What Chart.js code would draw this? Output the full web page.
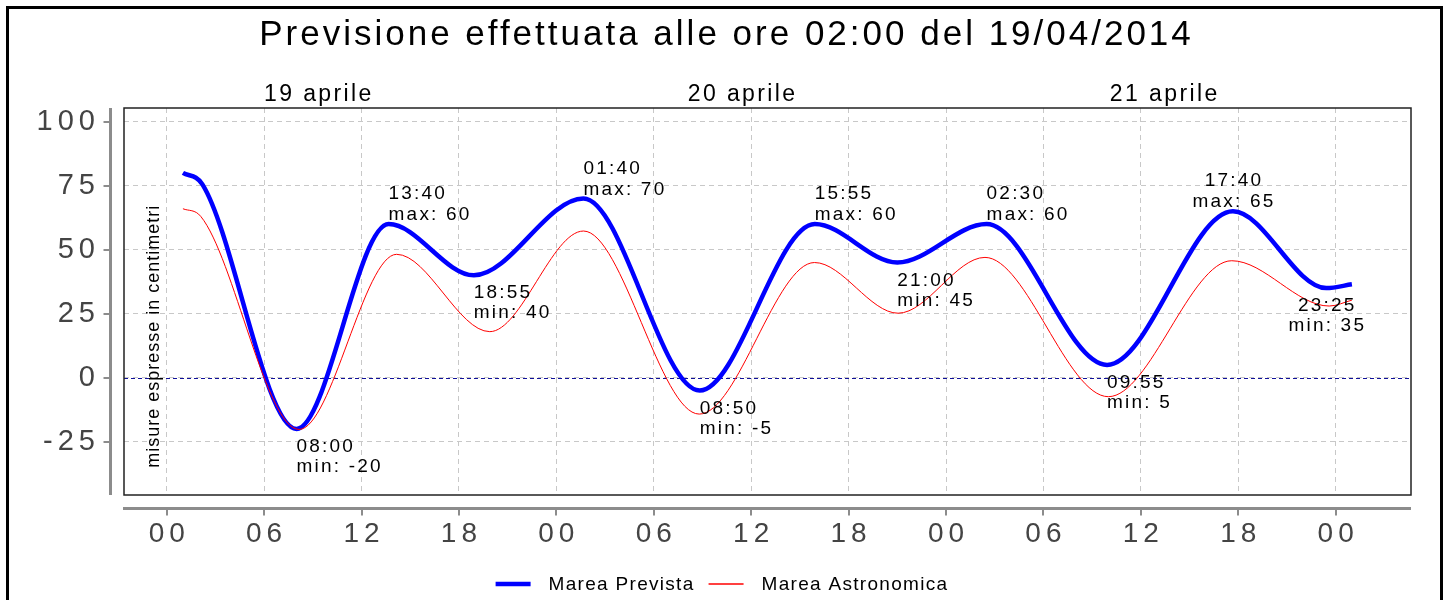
<!DOCTYPE html>
<html>
<head>
<meta charset="utf-8">
<script src="https://cdn.jsdelivr.net/npm/chart.js@4.4.1/dist/chart.umd.min.js"></script>
<style>
html,body{margin:0;padding:0;background:#fff;}
canvas{display:block;}
</style>
</head>
<body>
<canvas id="c" width="1450" height="600"></canvas>
<script>
// ---------------- DATA ----------------
const titleText = 'Previsione effettuata alle ore 02:00 del 19/04/2014';
const yAxisTitle = 'misure espresse in centimetri';
const seriesNames = ['Marea Prevista', 'Marea Astronomica'];

const dayLabels = ['19 aprile', '20 aprile', '21 aprile'];
const dayLabelHours = [9.3, 35.4, 61.4];

const xTickHours = [0, 6, 12, 18, 24, 30, 36, 42, 48, 54, 60, 66, 72];
const xTickLabels = ['00', '06', '12', '18', '00', '06', '12', '18', '00', '06', '12', '18', '00'];
const yTickValues = [-25, 0, 25, 50, 75, 100];

// hours since 19/04/2014 00:00 (start, turning points, end)
const predictedHours = [1, 2.2, 8, 13.67, 18.92, 25.67, 32.83, 39.92, 45, 50.5, 57.92, 65.67, 71.42, 73];
const predictedValues = [80, 75.5, -20, 60, 40, 70, -5, 60, 45, 60, 5, 65, 35, 36.5];

const astroHours = [1, 2.1, 8.15, 14.16, 19.9, 25.67, 32.8, 39.9, 45.05, 50.4, 58, 65.6, 71.6, 73];
const astroValues = [66, 63, -20.2, 48.2, 18, 57.3, -14.2, 45, 25.2, 47, -7.4, 45.7, 28, 30.3];

const extremeDays = [19, 19, 19, 20, 20, 20, 20, 21, 21, 21, 21];
const extremeTimes = ['08:00', '13:40', '18:55', '01:40', '08:50', '15:55', '21:00', '02:30', '09:55', '17:40', '23:25'];
const extremeKinds = ['min', 'max', 'min', 'max', 'min', 'max', 'min', 'max', 'min', 'max', 'min'];
const extremeValues = [-20, 60, 40, 70, -5, 60, 45, 60, 5, 65, 35];

// ---------------- STYLE ----------------
const FONT = '"Liberation Sans", Arial, Helvetica, sans-serif';
const annotationAlign = ['left', 'left', 'left', 'left', 'left', 'left', 'left', 'left', 'left', 'center', 'center'];
const colors = { predicted: '#0000ff', astro: '#ff0000' };

const extremeHours = extremeTimes.map((t, i) => {
  const [hh, mm] = t.split(':').map(Number);
  return (extremeDays[i] - 19) * 24 + hh + mm / 60;
});

const toPoints = (xs, ys) => xs.map((x, i) => ({ x: x, y: ys[i] }));

const deco = {
  id: 'deco',
  beforeDraw(chart) {
    const ctx = chart.ctx;
    ctx.save();
    ctx.fillStyle = '#fff';
    ctx.fillRect(0, 0, chart.width, chart.height);
    ctx.restore();
    ctx.letterSpacing = '5px';
  },
  beforeDatasetsDraw(chart) {
    const { ctx, chartArea: a, scales: { y } } = chart;
    const y0 = Math.round(y.getPixelForValue(0)) + 0.5;
    ctx.save();
    ctx.strokeStyle = '#10109a';
    ctx.lineWidth = 1;
    ctx.setLineDash([4, 3]);
    ctx.beginPath();
    ctx.moveTo(a.left, y0);
    ctx.lineTo(a.right, y0);
    ctx.stroke();
    ctx.restore();
  },
  afterDraw(chart) {
    const { ctx, chartArea: a, scales: { x, y } } = chart;
    ctx.save();
    ctx.letterSpacing = '0px';
    // outer frame
    ctx.strokeStyle = '#000';
    ctx.lineWidth = 3;
    ctx.strokeRect(7.5, 7.5, chart.width - 16, chart.height + 50);
    // plot border
    ctx.strokeStyle = '#222';
    ctx.lineWidth = 1.5;
    ctx.strokeRect(a.left, a.top, a.right - a.left, a.bottom - a.top);
    // y axis line + ticks
    const axX = a.left - 13.5;
    ctx.strokeStyle = '#8c8c8c';
    ctx.lineWidth = 3;
    ctx.beginPath();
    ctx.moveTo(axX, a.top);
    ctx.lineTo(axX, a.bottom);
    ctx.stroke();
    ctx.lineWidth = 2;
    yTickValues.forEach(v => {
      const py = Math.round(y.getPixelForValue(v));
      ctx.beginPath();
      ctx.moveTo(axX - 7, py);
      ctx.lineTo(axX, py);
      ctx.stroke();
    });
    // x axis line + ticks
    const axY = a.bottom + 13.5;
    ctx.lineWidth = 3;
    ctx.beginPath();
    ctx.moveTo(a.left - 1, axY);
    ctx.lineTo(a.right, axY);
    ctx.stroke();
    ctx.lineWidth = 2;
    xTickHours.forEach(h => {
      const px = Math.round(x.getPixelForValue(h));
      ctx.beginPath();
      ctx.moveTo(px, axY);
      ctx.lineTo(px, axY + 7);
      ctx.stroke();
    });
    ctx.restore();

    // title
    ctx.save();
    ctx.fillStyle = '#000';
    ctx.font = '35px ' + FONT;
    ctx.letterSpacing = '3px';
    ctx.textAlign = 'center';
    ctx.textBaseline = 'alphabetic';
    ctx.fillText(titleText, chart.width / 2 + 1.5, 45);
    // day labels
    ctx.font = '23px ' + FONT;
    ctx.letterSpacing = '2.4px';
    dayLabels.forEach((t, i) => {
      ctx.fillText(t, x.getPixelForValue(dayLabelHours[i]) + 1.2, 100.5);
    });
    ctx.restore();

    // y axis title inside plot
    ctx.save();
    ctx.fillStyle = '#000';
    ctx.font = '18px ' + FONT;
    ctx.letterSpacing = '1px';
    ctx.translate(a.left + 30, y.getPixelForValue(16));
    ctx.rotate(-Math.PI / 2);
    ctx.textAlign = 'center';
    ctx.textBaseline = 'middle';
    ctx.fillText(yAxisTitle, 0.5, 0);
    ctx.restore();

    // extreme annotations
    ctx.save();
    ctx.fillStyle = '#000';
    ctx.font = '19px ' + FONT;
    ctx.letterSpacing = '2.2px';
    ctx.textBaseline = 'alphabetic';
    extremeTimes.forEach((t, i) => {
      const px = x.getPixelForValue(extremeHours[i]);
      const py = y.getPixelForValue(extremeValues[i]);
      const line2 = extremeKinds[i] + ': ' + extremeValues[i];
      const align = annotationAlign[i];
      ctx.textAlign = align;
      const dx = align === 'center' ? 1.1 : 0;
      if (extremeKinds[i] === 'max') {
        ctx.fillText(t, px + dx, py - 25);
        ctx.fillText(line2, px + dx, py - 4);
      } else {
        ctx.fillText(t, px + dx, py + 23);
        ctx.fillText(line2, px + dx, py + 43);
      }
    });
    ctx.restore();

    // legend
    ctx.save();
    ctx.font = '19px ' + FONT;
    ctx.letterSpacing = '1.3px';
    ctx.textBaseline = 'middle';
    ctx.textAlign = 'left';
    const items = [
      { text: seriesNames[0], color: colors.predicted, lw: 4.5 },
      { text: seriesNames[1], color: colors.astro, lw: 1.3 }
    ];
    const lineW = 35, gap = 18, itemGap = 14;
    const widths = items.map(it => ctx.measureText(it.text).width);
    let total = 0;
    items.forEach((it, i) => { total += lineW + gap + widths[i]; });
    total += itemGap;
    let cx = chart.width / 2 - total / 2 - 3;
    const ly = 584;
    items.forEach((it, i) => {
      ctx.strokeStyle = it.color;
      ctx.lineWidth = it.lw;
      ctx.beginPath();
      ctx.moveTo(cx, ly);
      ctx.lineTo(cx + lineW, ly);
      ctx.stroke();
      ctx.fillStyle = '#000';
      ctx.fillText(it.text, cx + lineW + gap, ly + 1);
      cx += lineW + gap + widths[i] + itemGap;
    });
    ctx.restore();
  }
};

new Chart(document.getElementById('c'), {
  type: 'line',
  data: {
    datasets: [
      {
        label: seriesNames[0],
        data: toPoints(predictedHours, predictedValues),
        borderColor: colors.predicted,
        borderWidth: 4.5,
        pointRadius: 0,
        fill: false,
        cubicInterpolationMode: 'monotone',
        order: 2
      },
      {
        label: seriesNames[1],
        data: toPoints(astroHours, astroValues),
        borderColor: colors.astro,
        borderWidth: 1,
        pointRadius: 0,
        fill: false,
        cubicInterpolationMode: 'monotone',
        order: 1
      }
    ]
  },
  options: {
    responsive: false,
    animation: false,
    devicePixelRatio: 1,
    layout: { padding: { top: 108, right: 39, bottom: 0, left: 0 } },
    plugins: {
      legend: { display: false },
      title: { display: false },
      tooltip: { enabled: false }
    },
    scales: {
      x: {
        type: 'linear',
        min: -2.63,
        max: 76.64,
        afterFit: s => { s.height = 105; },
        afterBuildTicks: s => { s.ticks = xTickHours.map(v => ({ value: v })); },
        ticks: {
          autoSkip: false,
          maxRotation: 0,
          padding: 22,
          labelOffset: 2.5,
          color: '#444',
          font: { family: FONT, size: 28 },
          callback: (v) => { const i = xTickHours.indexOf(v); return i >= 0 ? xTickLabels[i] : ''; }
        },
        grid: { color: '#c8c8c8', lineWidth: 1, drawTicks: false },
        border: { display: false, dash: [5, 4] }
      },
      y: {
        type: 'linear',
        min: -45.8,
        max: 105.35,
        afterFit: s => { s.width = 124; },
        afterBuildTicks: s => { s.ticks = yTickValues.map(v => ({ value: v })); },
        ticks: {
          padding: 24,
          color: '#444',
          font: { family: FONT, size: 29 },
          callback: v => String(v)
        },
        grid: { color: '#c8c8c8', lineWidth: 1, drawTicks: false },
        border: { display: false, dash: [5, 4] }
      }
    }
  },
  plugins: [deco]
});
</script>
</body>
</html>
